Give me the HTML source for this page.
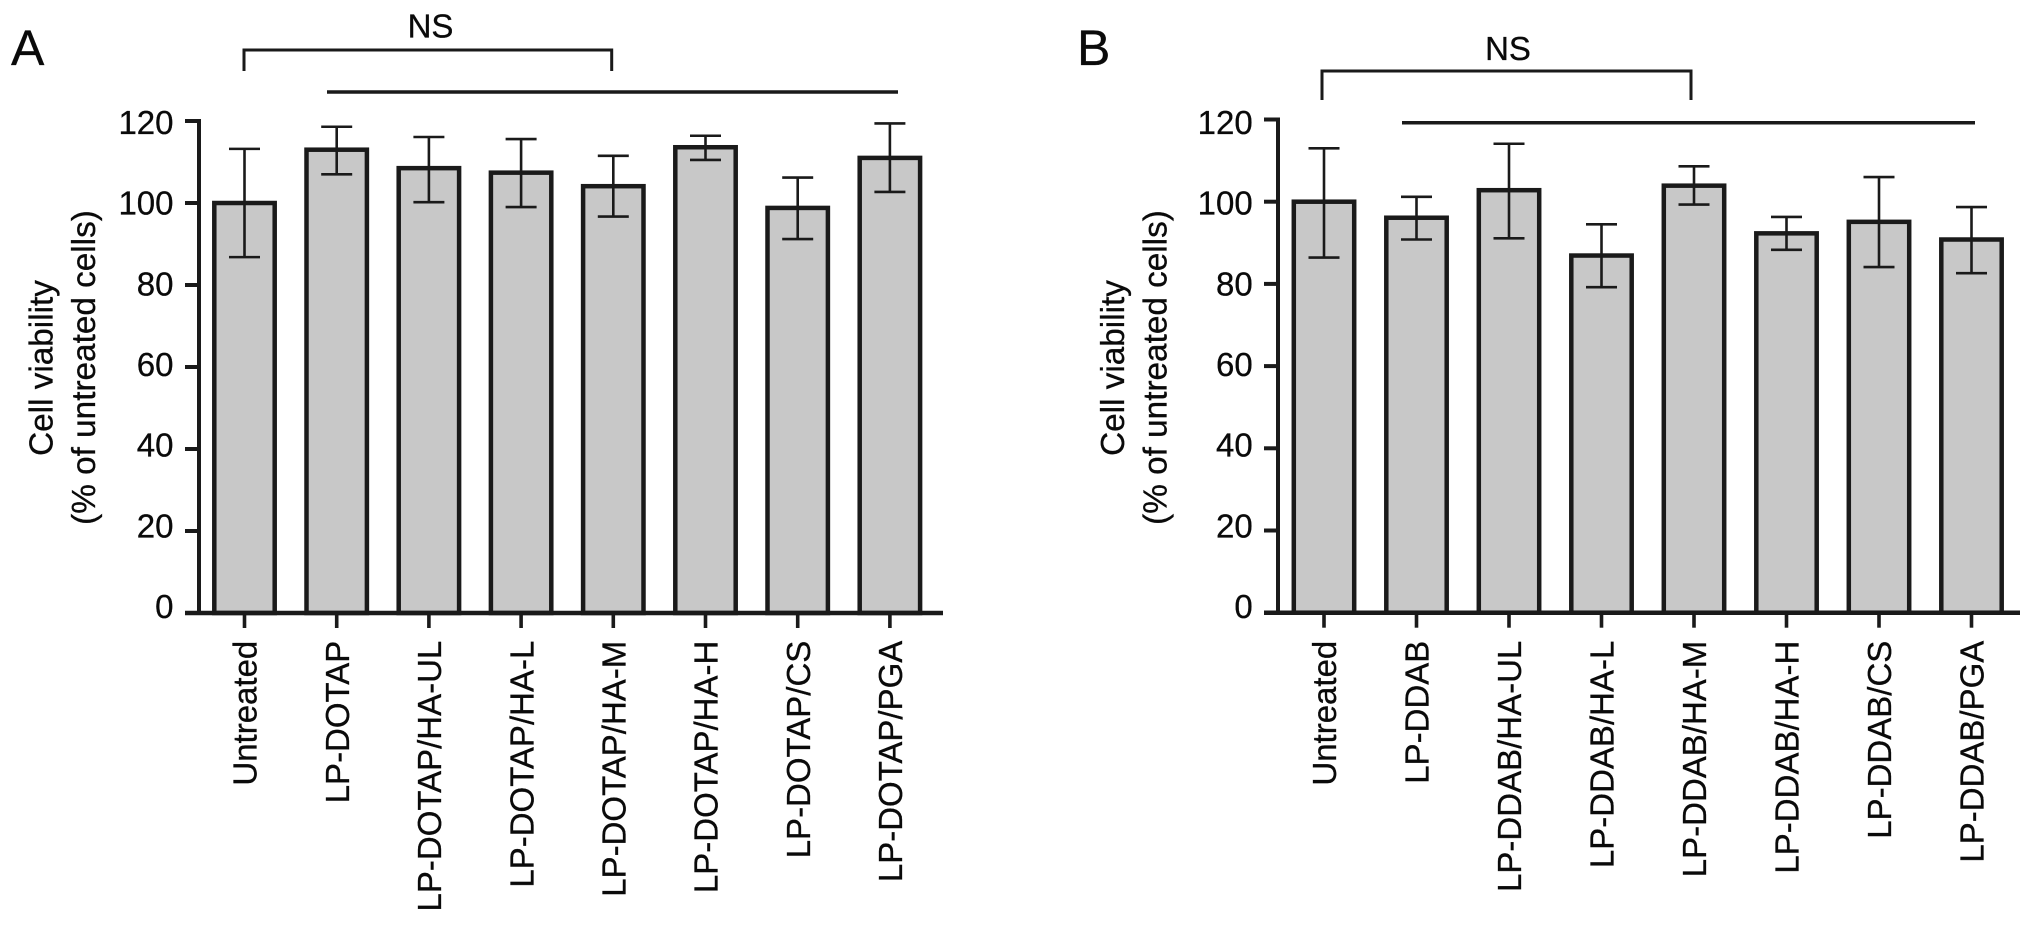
<!DOCTYPE html>
<html lang="en">
<head>
<meta charset="utf-8">
<title>Cell viability bar charts</title>
<style>
html,body{margin:0;padding:0;background:#fff;width:2032px;height:925px;overflow:hidden}
svg{display:block}
text{font-family:"Liberation Sans",Arial,sans-serif;fill:#0a0a0a;stroke:#0a0a0a;stroke-width:.3px}
</style>
</head>
<body>
<svg id="figure" width="2032" height="925" viewBox="0 0 2032 925" xmlns="http://www.w3.org/2000/svg">
  <rect width="2032" height="925" fill="#fff"/>
  <text x="11" y="65" font-size="50">A</text>
  <text x="1077" y="65" font-size="50">B</text>

  <text x="430.5" y="37.5" font-size="33" text-anchor="middle">NS</text>
  <path d="M244 71V50H611.7V71" fill="none" stroke="#1a1a1a" stroke-width="3"/>
  <line x1="327" y1="92" x2="898" y2="92" stroke="#1a1a1a" stroke-width="3.5"/>

  <text x="1508" y="60" font-size="33" text-anchor="middle">NS</text>
  <path d="M1322 100V71H1691V100" fill="none" stroke="#1a1a1a" stroke-width="3"/>
  <line x1="1402" y1="122.7" x2="1975" y2="122.7" stroke="#1a1a1a" stroke-width="3.5"/>

  <text transform="translate(52.7 368) rotate(-90)" font-size="33.3" text-anchor="middle">Cell viability</text>
  <text transform="translate(95 367.5) rotate(-90)" font-size="33.3" text-anchor="middle">(% of untreated cells)</text>
  <text transform="translate(1124 368) rotate(-90)" font-size="33.3" text-anchor="middle">Cell viability</text>
  <text transform="translate(1166.5 367.5) rotate(-90)" font-size="33.3" text-anchor="middle">(% of untreated cells)</text>
  <g id="panel-a"></g>
  <g id="panel-b"></g>
</svg>
<script>
var yTicks = [0, 20, 40, 60, 80, 100, 120];

var categoriesA = ["Untreated", "LP-DOTAP", "LP-DOTAP/HA-UL", "LP-DOTAP/HA-L", "LP-DOTAP/HA-M", "LP-DOTAP/HA-H", "LP-DOTAP/CS", "LP-DOTAP/PGA"];
var meansA = [100, 113, 108.5, 107.4, 104.1, 113.6, 98.8, 111];
var upperA = [113.2, 118.6, 116.1, 115.6, 111.5, 116.4, 106.2, 119.4];
var lowerA = [86.8, 107, 100.2, 99, 96.7, 110.5, 91.2, 102.7];

var categoriesB = ["Untreated", "LP-DDAB", "LP-DDAB/HA-UL", "LP-DDAB/HA-L", "LP-DDAB/HA-M", "LP-DDAB/HA-H", "LP-DDAB/CS", "LP-DDAB/PGA"];
var meansB = [100, 96.1, 102.8, 86.9, 103.9, 92.3, 95.1, 90.8];
var upperB = [113, 101.2, 114.1, 94.5, 108.6, 96.3, 106, 98.7];
var lowerB = [86.4, 90.8, 91.1, 79.2, 99.3, 88.3, 84.1, 82.6];

var NS = "http://www.w3.org/2000/svg";
var INK = "#1a1a1a";

function make(parent, tag, attrs) {
  var el = document.createElementNS(NS, tag);
  for (var k in attrs) { el.setAttribute(k, attrs[k]); }
  parent.appendChild(el);
  return el;
}

function drawPanel(root, cfg, categories, means, upper, lower) {
  function yScale(v) { return cfg.y0 - v * cfg.yUnit; }
  function xScale(i) { return cfg.x0 + i * cfg.step; }
  /* the printed tick labels sit on a slightly tighter scale than the ticks */
  function yLabel(v) { return 618 - v * 4.033; }

  categories.forEach(function (cat, i) {
    var cx = xScale(i);
    var top = yScale(means[i]);
    var bar = make(root, "rect", {x: cx - 30.2, y: top, width: 60.4, height: cfg.y0 - top, fill: "#c8c8c8", stroke: INK, "stroke-width": 4.5});
    
    

    var stem = make(root, "line", {x1: cx, x2: cx, y1: yScale(upper[i]), y2: yScale(lower[i]), stroke: INK, "stroke-width": 2.6});
    
    

    var capHigh = make(root, "line", {x1: cx - 15.5, x2: cx + 15.5, y1: yScale(upper[i]), y2: yScale(upper[i]), stroke: INK, "stroke-width": 2.6});
    
    

    var capLow = make(root, "line", {x1: cx - 15.5, x2: cx + 15.5, y1: yScale(lower[i]), y2: yScale(lower[i]), stroke: INK, "stroke-width": 2.6});
    
    

    var tick = make(root, "line", {x1: cx, x2: cx, y1: cfg.y0, y2: cfg.y0 + 15, stroke: INK, "stroke-width": 3.6});
    
    

    var label = make(root, "text", {transform: "translate(" + (cx + 12.2) + " 640.7) rotate(-90)", "font-size": 33, "text-anchor": "end"});
    
    
    label.textContent = cat;
  });

  var yAxis = make(root, "line", {x1: cfg.axisX, x2: cfg.axisX, y1: yScale(120) - 2, y2: cfg.y0 + 2, stroke: INK, "stroke-width": 4});
  
  

  var xAxis = make(root, "line", {x1: cfg.axisX - 14, x2: cfg.xEnd, y1: cfg.y0, y2: cfg.y0, stroke: INK, "stroke-width": 4.5});
  
  

  yTicks.forEach(function (v) {
    var tick = make(root, "line", {x1: cfg.axisX - 14, x2: cfg.axisX, y1: yScale(v), y2: yScale(v), stroke: INK, "stroke-width": 4});
    
    

    var label = make(root, "text", {x: cfg.labelX, y: yLabel(v), "font-size": 33, "text-anchor": "end"});
    
    
    label.textContent = String(v);
  });
}

drawPanel(document.getElementById("panel-a"),
  {x0: 244.5, step: 92.2, y0: 613, yUnit: 4.1, axisX: 199, xEnd: 943, labelX: 173.5},
  categoriesA, meansA, upperA, lowerA);

drawPanel(document.getElementById("panel-b"),
  {x0: 1324, step: 92.5, y0: 612.7, yUnit: 4.11, axisX: 1278, xEnd: 2020, labelX: 1252.7},
  categoriesB, meansB, upperB, lowerB);
</script>
</body>
</html>
